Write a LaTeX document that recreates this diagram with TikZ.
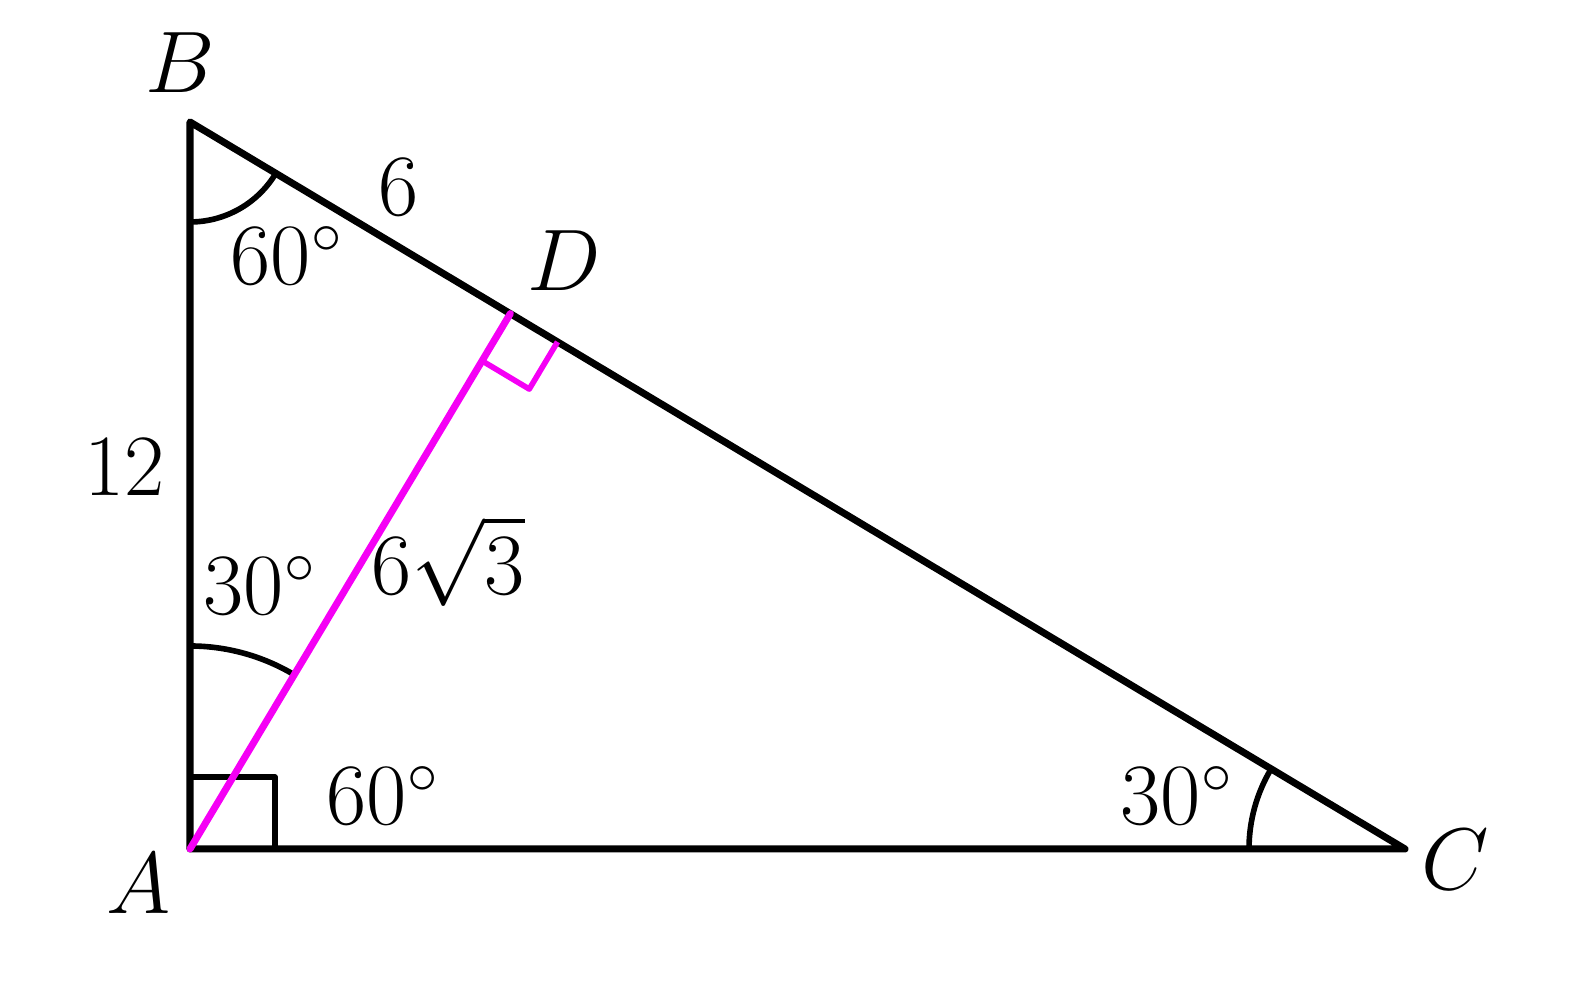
\documentclass[tikz,border=0pt]{standalone}
\usepackage{amsmath,amssymb}
\usepackage{tikz}
\definecolor{magenta}{RGB}{245,0,245}
\usetikzlibrary{angles,calc}
\tikzset{lbl/.style={anchor=base, font=\fontsize{23}{28}\selectfont},
  arcmark/.style={draw, line width=1.6pt}}

\begin{document}
\begin{tikzpicture}[line cap=round,line join=round,x=1.0cm,y=1.0cm]
	\useasboundingbox (0,0) rectangle (15.87,9.91);
	\coordinate (A) at (1.90,1.42);
	\coordinate (B) at (1.90,8.69);
	\coordinate (C) at (14.05,1.42);
	\coordinate (D) at ($(B)!(A)!(C)$);
	% right angle at A and the angle marks
	\draw [line width=1.6pt, line cap=butt] (A) rectangle ++(0.85,0.72);
	\pic [arcmark, angle radius=1.0cm] {angle = A--B--C};
	\pic [arcmark, angle radius=2.03cm] {angle = D--A--B};
	\pic [arcmark, angle radius=1.56cm] {angle = B--C--A};
	\draw [line width=2pt] (A) -- (B) -- (C) -- cycle;
	% altitude from A
	\pic [draw=magenta, line width=1.6pt, line cap=butt, angle radius=0.55cm] {right angle = A--D--C};
	\draw [line width=2pt, magenta] (A) -- (D);
	\node [lbl] (lB) at (1.80,8.98) {$B$};
	\node [lbl] (lA) at (1.39,0.77) {$A$};
	\node [lbl] (lC) at (14.55,1.01) {$C$};
	\node [lbl] (lD) at (5.64,7.00) {$D$};
	\node [lbl] (lBD) at (3.99,7.75) {$6$};
	\node [lbl] (lAB) at (1.25,4.95) {$12$};
	\node [lbl] (lAD) at (4.48,3.96) {$6\sqrt{3}$};
	\node [lbl] (angB) at (2.87,7.06) {$60^\circ$};
	\node [lbl] (angBAD) at (2.60,3.76) {$30^\circ$};
	\node [lbl] (angDAC) at (3.83,1.66) {$60^\circ$};
	\node [lbl] (angC) at (11.77,1.66) {$30^\circ$};
\end{tikzpicture}
\end{document}
